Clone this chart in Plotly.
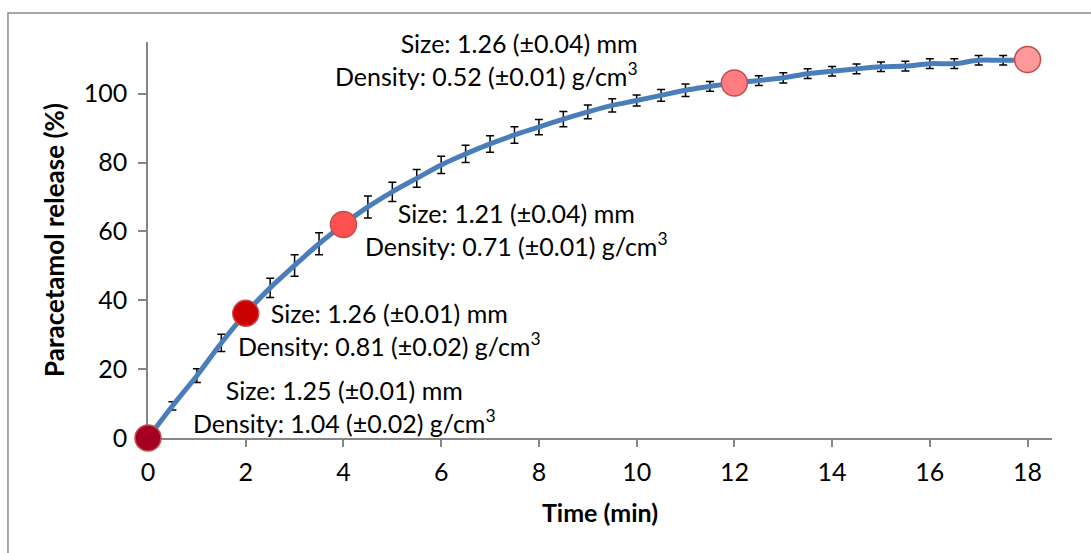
import plotly.graph_objects as go

# ---- data ----
time_min = [0, 0.5, 1, 1.5, 2, 2.5, 3, 3.5, 4, 4.5, 5, 5.5, 6, 6.5, 7, 7.5, 8, 8.5,
            9, 9.5, 10, 10.5, 11, 11.5, 12, 12.5, 13, 13.5, 14, 14.5, 15, 15.5,
            16, 16.5, 17, 17.5, 18]
release = [0, 9.3, 18.1, 27.6, 36.2, 43.6, 50.1, 56.4, 62.0, 67.1, 71.5, 75.4,
           79.3, 82.5, 85.4, 88.0, 90.3, 92.6, 94.7, 96.6, 98.0, 99.5, 101.0,
           102.1, 103.1, 103.8, 104.6, 105.8, 106.5, 107.2, 107.8, 108.0, 108.7,
           108.7, 109.7, 109.7, 109.9]
release_sd = [0, 1.2, 2.0, 2.5, 2.7, 2.8, 3.1, 3.2, 3.2, 3.2, 2.8, 2.6, 2.5, 2.5,
              2.4, 2.4, 2.2, 2.2, 2.0, 1.9, 1.6, 1.7, 1.8, 1.4, 1.4, 1.4, 1.5, 1.4,
              1.4, 1.4, 1.4, 1.4, 1.4, 1.4, 1.4, 1.4, 1.4]

sample_times = [0, 2, 4, 12, 18]
sample_colors = ["#A50021", "#CC0000", "#FF5050", "#FF7C80", "#FF9999"]
sample_labels = [
    "Size: 1.25 (±0.01) mm<br>Density: 1.04 (±0.02) g/cm<sup>3</sup>",
    "Size: 1.26 (±0.01) mm<br>Density: 0.81 (±0.02) g/cm<sup>3</sup>",
    "Size: 1.21 (±0.04) mm<br>Density: 0.71 (±0.01) g/cm<sup>3</sup>",
    "Size: 1.26 (±0.04) mm<br>Density: 0.52 (±0.01) g/cm<sup>3</sup>",
    "Size: 1.23 (±0.03) mm<br>Density: 0.56 (±0.01) g/cm<sup>3</sup>",
]
# label placement (data coords) and anchoring
label_pos = [(4.03, 9.2, "center"), (4.95, 31.5, "center"), (7.55, 60.5, "center"),
             (10.07, 110.0, "right"), (19.12, 85.7, "right")]

x_ticks = [0, 2, 4, 6, 8, 10, 12, 14, 16, 18]
y_ticks = [0, 20, 40, 60, 80, 100]

FONT = "Lato"
FS = 25

sample_vals = [release[time_min.index(t)] for t in sample_times]

fig = go.Figure()
fig.add_trace(go.Scatter(
    x=time_min, y=release, mode="lines",
    line=dict(color="#4A7EBB", width=5, shape="spline", smoothing=1),
    error_y=dict(type="data", array=release_sd, visible=True,
                 color="black", thickness=1.5, width=4),
    showlegend=False, hoverinfo="skip"))
fig.add_trace(go.Scatter(
    x=sample_times, y=sample_vals, mode="markers",
    marker=dict(size=26, color=sample_colors, line=dict(color="#C0504D", width=1.5)),
    showlegend=False, cliponaxis=False))

for (lx, ly, anc), txt in zip(label_pos, sample_labels):
    fig.add_annotation(x=lx, y=ly, xref="x", yref="y", text=txt, showarrow=False,
                       xanchor=anc, yanchor="middle", align=anc,
                       font=dict(family=FONT, size=FS, color="black"))

# outer chart border (partially outside the page, as in the reference)
fig.add_shape(type="rect", xref="paper", yref="paper",
              x0=-0.1549, x1=2.0, y0=-2.0, y1=1.0733,
              line=dict(color="#8C8C8C", width=1.5), fillcolor="rgba(0,0,0,0)", layer="below")

axis_common = dict(showline=True, linecolor="#868686", linewidth=1.5, showgrid=False,
                   zeroline=False, ticks="outside", tickcolor="#868686", tickwidth=1.5,
                   layer="below traces",
                   tickfont=dict(family=FONT, size=FS, color="black"))

fig.update_layout(
    width=1091, height=553,
    margin=dict(l=148, r=39, t=42, b=115),
    plot_bgcolor="white", paper_bgcolor="white",
    xaxis=dict(range=[0, 18.5], tickvals=x_ticks, ticklen=7, ticklabelstandoff=4,
               title=dict(text="<b>Time (min)</b>", font=dict(family=FONT, size=25, color="black"),
                          standoff=20),
               **axis_common),
    yaxis=dict(range=[0, 115], tickvals=y_ticks, ticklen=8,
               title=dict(text="<b>Paracetamol release (%)</b>",
                          font=dict(family=FONT, size=26, color="black"), standoff=12),
               ticklabelstandoff=6,
               **axis_common),
)

fig.write_html("out.html")
